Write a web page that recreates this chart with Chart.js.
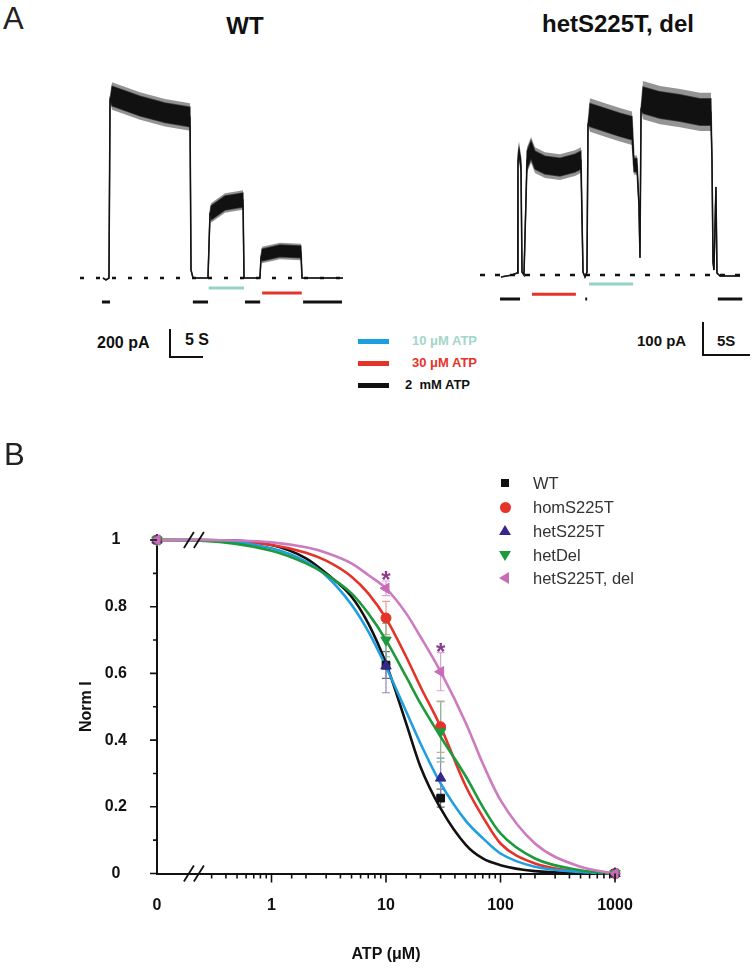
<!DOCTYPE html>
<html>
<head>
<meta charset="utf-8">
<title>ATP inhibition of WT and mutant channels</title>
<script src="https://cdn.jsdelivr.net/npm/chart.js@4.4.1/dist/chart.umd.min.js"></script>
<style>
  html, body { margin: 0; padding: 0; background: #fff; }
  #fig { position: relative; width: 755px; height: 972px; overflow: hidden;
         font-family: 'Liberation Sans', Arial, sans-serif; color: #111; }
  #fig > * { position: absolute; }
  .t { line-height: 1; white-space: pre; margin: 0; }
  .panel { font-size: 31px; color: #222; }
  .head { font-size: 24px; font-weight: bold; text-align: center; width: 240px; }
  .scl { font-size: 16px; font-weight: bold; }
  .key { font-size: 13px; font-weight: bold; }
  .keyline { height: 5px; width: 31px; left: 358px; }
  .ink { background: #111; }
  .grp { font-size: 16.5px; color: #333; left: 533px; }
  .sym { width: 0; height: 0; }
</style>
</head>
<body>
<div id="fig">
  <div class="t panel" style="left:3px; top:3px;">A</div>
  <div class="t head" style="left:125px; top:14px;">WT</div>
  <div class="t head" style="left:498px; top:12px;">hetS225T, del</div>

  <canvas id="wtTrace" width="290" height="260" style="left:70px; top:60px;"></canvas>
  <canvas id="hetTrace" width="285" height="260" style="left:470px; top:60px;"></canvas>

  <!-- scale bars -->
  <div class="t scl" style="left:97px; top:335px;">200 pA</div>
  <div class="ink" style="left:169px; top:329px; width:2px; height:29px;"></div>
  <div class="ink" style="left:169px; top:356px; width:34px; height:2px;"></div>
  <div class="t scl" style="left:185px; top:332px;">5 S</div>

  <div class="t scl" style="left:637px; top:333px; font-size:15px;">100 pA</div>
  <div class="ink" style="left:702px; top:322px; width:2px; height:34px;"></div>
  <div class="ink" style="left:702px; top:354px; width:48px; height:2px;"></div>
  <div class="t scl" style="left:717px; top:333px; font-size:15px;">5S</div>

  <!-- solution key -->
  <div class="keyline" style="top:339px; background:#1a9fe0;"></div>
  <div class="keyline" style="top:361px; background:#e5332a;"></div>
  <div class="keyline" style="top:383px; background:#111;"></div>
  <div class="t key" style="left:412px; top:334px; color:#a3d6c9;">10 μM ATP</div>
  <div class="t key" style="left:412px; top:356px; color:#e5332a;">30 μM ATP</div>
  <div class="t key" style="left:405px; top:378px;">2  mM ATP</div>

  <canvas id="doseChart" width="755" height="532" style="left:0; top:440px;"></canvas>
  <div class="t panel" style="left:4px; top:439px;">B</div>
</div>

<script>
// ---------- panel A : current traces (time in s, current in pA) ----------
const wtTime    = [3.48, 3.94, 4.39, 4.55, 4.85, 9.09, 12.88, 16.67, 16.82, 17.12, 19.39, 19.7,
                   19.85, 21.97, 24.7, 24.85, 27.27, 27.42, 27.58, 30.3, 33.48, 33.64, 39.85];
const wtCurrent = [0, -14, 0, 1271, 1300, 1228, 1180, 1150, 57, 0, 0, 464,
                   464, 536, 557, 0, 0, 143, 164, 193, 186, 0, 0];
const wtNoise   = [0, 0, 0, 0, 70, 70, 70, 70, 0, 0, 0, 0,
                   50, 50, 50, 0, 0, 0, 42, 42, 42, 0, 0];
const wtBaseline = [0, 41.2];
const wtBlackOn = [[3.33, 4.55], [17.1, 19.4], [25.0, 27.3], [33.8, 39.7]];
const wtTealOn  = [[19.5, 24.85]];
const wtRedOn   = [[27.6, 33.6]];

const hetTime    = [2.23, 3.4, 3.94, 4.04, 4.15, 4.36, 4.47, 4.68, 4.89, 5.0,
                    5.43, 5.85, 6.91, 8.51, 10.1, 10.74, 10.96, 11.17, 11.38, 11.49,
                    11.7, 13.3, 14.89, 16.17, 16.38, 16.7, 16.91, 17.02, 17.13, 17.34,
                    19.15, 21.28, 23.4, 24.57, 24.68, 24.79, 24.89, 25.1, 25.21, 25.53, 27.66];
const hetCurrent = [-6, 0, 6, 348, 373, 333, 9, 0, 227, 348,
                    379, 348, 333, 327, 339, 348, 9, -6, 9, 455,
                    485, 470, 455, 445, 333, 333, 212, 52, 500, 530,
                    515, 506, 494, 494, 348, 39, 15, 267, 6, -3, -3];
const hetNoise   = [0, 0, 0, 15, 15, 15, 0, 0, 0, 27,
                    27, 27, 27, 27, 27, 27, 0, 0, 0, 0,
                    35, 35, 35, 35, 20, 20, 0, 0, 0, 40,
                    40, 40, 40, 40, 0, 0, 0, 0, 0, 0, 0];
const hetBaseline = [0, 28.7];
const hetBlackOn = [[2.13, 4.26], [11.2, 11.4], [25.3, 27.9]];
const hetTealOn  = [[11.6, 16.3]];
const hetRedOn   = [[5.53, 10.2]];

// ---------- panel B : normalised current vs ATP ----------
const groupNames = ['WT', 'homS225T', 'hetS225T', 'hetDel', 'hetS225T, del'];
const atpConc = [0, 10, 30, 1000];
const wtMean  = [1, 0.625, 0.226, 0];
const wtErr   = [0, 0.04, 0.027, 0];
const homMean = [1, 0.766, 0.44, 0];
const homErr  = [0, 0.05, 0.077, 0];
const hetMean = [1, 0.622, 0.286, 0];
const hetErr  = [0, 0.08, 0.06, 0];
const delMean = [1, 0.70, 0.425, 0];
const delErr  = [0, 0.05, 0.09, 0];
const dblMean = [1, 0.855, 0.605, 0];
const dblErr  = [0, 0.022, 0.057, 0];
const starConc = [10, 30];

const fitConc = [0, 0.24, 1, 2, 3, 5, 7, 10, 15, 20, 30, 50, 70, 100, 200, 500, 1000];
const wtFit  = [1, 1, 0.985, 0.945, 0.9, 0.83, 0.75, 0.63, 0.45, 0.32, 0.195, 0.085, 0.045, 0.025, 0.007, 0.001, 0];
const homFit = [1, 1, 0.985, 0.962, 0.938, 0.89, 0.84, 0.765, 0.65, 0.56, 0.44, 0.26, 0.17, 0.09, 0.03, 0.006, 0];
const hetFit = [1, 1, 0.975, 0.935, 0.893, 0.806, 0.726, 0.62, 0.486, 0.39, 0.27, 0.157, 0.106, 0.06, 0.02, 0.005, 0];
const delFit = [1, 0.998, 0.968, 0.93, 0.897, 0.84, 0.78, 0.70, 0.59, 0.51, 0.41, 0.29, 0.2, 0.12, 0.045, 0.01, 0];
const dblFit = [1, 1, 0.993, 0.978, 0.962, 0.93, 0.895, 0.855, 0.78, 0.71, 0.605, 0.45, 0.33, 0.22, 0.09, 0.02, 0];

const xTickAt = [0.1, 1, 10, 100, 1000];
const xTickLabels = ['0', '1', '10', '100', '1000'];

const ZERO_AT = 0.1;    // "0" sits one decade left of 1 on the log axis
const BREAK_AT = 0.21;  // where the // marks go

Chart.defaults.font.family = "'Liberation Sans', Arial, sans-serif";
Chart.defaults.color = '#111';

// ---------- traces ----------
function drawTrace(id, view, trace) {
  const pts = (ys) => trace.time.map((t, i) => ({ x: t, y: ys[i] }));
  const band = (k) => pts(trace.current.map((c, i) => c + k * trace.noise[i]));
  const bars = (spans, level, color) => ({
    data: spans.flatMap(([a, b]) => [{ x: a, y: level }, { x: b, y: level }, { x: b, y: null }]),
    borderColor: color, borderWidth: 3, borderCapStyle: 'butt', spanGaps: false
  });

  new Chart(document.getElementById(id), {
    type: 'line',
    data: {
      datasets: [
        { data: band(1), fill: '+1', backgroundColor: '#111', borderColor: 'rgba(17,17,17,0.6)', borderWidth: 1.5 },
        { data: band(-1), fill: false, borderColor: 'rgba(17,17,17,0.6)', borderWidth: 1.5 },
        { data: pts(trace.current), borderColor: '#111', borderWidth: 1.2 },
        { data: trace.baseline.map((t) => ({ x: t, y: 0 })), borderColor: '#111', borderWidth: 2.5, borderDash: view.dash },
        bars(trace.black, view.barLevel.black, '#111'),
        bars(trace.teal, view.barLevel.teal, '#93d4c6'),
        bars(trace.red, view.barLevel.red, '#e5332a'),
        // soft halo for the noise peaks, drawn underneath
        { data: band(view.halo), fill: '+1', backgroundColor: 'rgba(17,17,17,0.45)', borderWidth: 0 },
        { data: band(-view.halo), fill: false, borderWidth: 0 },
      ]
    },
    options: {
      responsive: false,
      animation: false,
      devicePixelRatio: 1,
      layout: { padding: 0 },
      elements: { point: { radius: 0 }, line: { tension: 0 } },
      scales: {
        x: { type: 'linear', display: false,
             min: -view.originX / view.pxPerSec,
             max: (view.width - view.originX) / view.pxPerSec },
        y: { display: false,
             min: -(view.height - view.originY) * view.pAPerPx,
             max: view.originY * view.pAPerPx },
      },
      plugins: { legend: { display: false }, tooltip: { enabled: false } },
    },
  });
}

drawTrace('wtTrace',
  { pxPerSec: 33 / 5, pAPerPx: 200 / 28, originX: 10, originY: 218, width: 290, height: 260,
    dash: [4, 12], halo: 1.4, barLevel: { black: -171, teal: -71, red: -107 } },
  { time: wtTime, current: wtCurrent, noise: wtNoise, baseline: wtBaseline,
    black: wtBlackOn, teal: wtTealOn, red: wtRedOn });

drawTrace('hetTrace',
  { pxPerSec: 47 / 5, pAPerPx: 100 / 33, originX: 10, originY: 215, width: 285, height: 260,
    dash: [5, 10], halo: 1.45, barLevel: { black: -73, teal: -27, red: -58 } },
  { time: hetTime, current: hetCurrent, noise: hetNoise, baseline: hetBaseline,
    black: hetBlackOn, teal: hetTealOn, red: hetRedOn });

// ---------- dose response ----------
const groups = [
  { mean: wtMean,  err: wtErr,  fit: wtFit,  line: '#111111', mark: '#111111', bar: '#6b6b6b', style: 'rect',     rot: 0,   r: 5.5 },
  { mean: homMean, err: homErr, fit: homFit, line: '#e5332a', mark: '#e5332a', bar: '#f09a92', style: 'circle',   rot: 0,   r: 5 },
  { mean: hetMean, err: hetErr, fit: hetFit, line: '#1f9fe0', mark: '#35288c', bar: '#8f88c4', style: 'triangle', rot: 0,   r: 6 },
  { mean: delMean, err: delErr, fit: delFit, line: '#1e9a3e', mark: '#1e9a3e', bar: '#7fbf95', style: 'triangle', rot: 180, r: 6 },
  { mean: dblMean, err: dblErr, fit: dblFit, line: '#cc7bc0', mark: '#c86cb8', bar: '#dca4d4', style: 'triangle', rot: 270, r: 6 },
];
const onAxis = (c) => (c === 0 ? ZERO_AT : c);
const isDecade = (v) => Math.abs(Math.log10(v) - Math.round(Math.log10(v))) < 1e-6;

const markSets = groups.map((g, i) => ({
  data: atpConc.map((c, j) => ({ x: onAxis(c), y: g.mean[j] })),
  showLine: false,
  pointStyle: g.style, pointRotation: g.rot, pointRadius: g.r,
  pointBackgroundColor: g.mark, pointBorderColor: g.mark, pointBorderWidth: 1,
  clip: false, order: 4 - i,
  err: g.err, errColor: g.bar, star: i === 4,
}));
const fitSets = groups.map((g, i) => ({
  data: fitConc.map((c, j) => ({ x: onAxis(c), y: g.fit[j] })),
  borderColor: g.line, borderWidth: 2.6, pointRadius: 0,
  cubicInterpolationMode: 'monotone', clip: false, order: 14 - i,
}));

const errorBars = {
  id: 'errorBars',
  beforeDatasetsDraw(chart) {
    const { ctx, scales: { y } } = chart;
    ctx.save();
    ctx.lineWidth = 1.2;
    chart.data.datasets.forEach((ds, i) => {
      if (!ds.err) return;
      ctx.strokeStyle = ds.errColor;
      chart.getDatasetMeta(i).data.forEach((pt, j) => {
        const e = ds.err[j];
        if (!e) return;
        const v = ds.data[j].y;
        const top = y.getPixelForValue(v + e), bot = y.getPixelForValue(v - e);
        ctx.beginPath();
        ctx.moveTo(pt.x, top); ctx.lineTo(pt.x, bot);
        ctx.moveTo(pt.x - 4, top); ctx.lineTo(pt.x + 4, top);
        ctx.moveTo(pt.x - 4, bot); ctx.lineTo(pt.x + 4, bot);
        ctx.stroke();
      });
    });
    ctx.restore();
  },
};

const stars = {
  id: 'stars',
  afterDatasetsDraw(chart) {
    const { ctx, scales: { x, y } } = chart;
    const ds = chart.data.datasets.find((d) => d.star);
    ctx.save();
    ctx.fillStyle = '#8c3a8a';
    ctx.font = 'bold 24px "Liberation Sans", Arial, sans-serif';
    ctx.textAlign = 'center';
    ctx.textBaseline = 'alphabetic';
    starConc.forEach((c) => {
      const j = atpConc.indexOf(c);
      const top = y.getPixelForValue(ds.data[j].y + ds.err[j]);
      ctx.fillText('*', x.getPixelForValue(c), top + 7);
    });
    ctx.restore();
  },
};

const axisTicks = {
  id: 'axisTicks',
  afterDraw(chart) {
    const { ctx, chartArea: area, scales: { x, y } } = chart;
    ctx.save();
    ctx.strokeStyle = '#111';
    ctx.lineWidth = 1.6;
    ctx.beginPath();
    x.ticks.forEach((t) => {
      if (t.value < 0.25) return;       // "0" and the broken stretch
      const px = x.getPixelForValue(t.value);
      ctx.moveTo(px, area.bottom);
      ctx.lineTo(px, area.bottom + (isDecade(t.value) ? 9 : 5));
    });
    y.ticks.forEach((t) => {
      const py = y.getPixelForValue(t.value);
      const major = Math.round(t.value * 10) % 2 === 0;
      ctx.moveTo(area.left, py);
      ctx.lineTo(area.left - (major ? 7 : 4), py);
    });
    ctx.stroke();
    // axis break marks on the x axis and on the y = 1 line
    const cx = x.getPixelForValue(BREAK_AT);
    ctx.lineWidth = 1.8;
    ctx.beginPath();
    [y.getPixelForValue(0), y.getPixelForValue(1)].forEach((cy) => {
      [-5, 5].forEach((dx) => {
        ctx.moveTo(cx + dx - 5, cy + 8);
        ctx.lineTo(cx + dx + 5, cy - 8);
      });
    });
    ctx.stroke();
    ctx.restore();
  },
};

new Chart(document.getElementById('doseChart'), {
  type: 'line',
  data: { datasets: [...markSets, ...fitSets] },
  options: {
    responsive: false,
    animation: false,
    devicePixelRatio: 1,
    layout: { padding: { top: 100, right: 140, left: 0, bottom: 0 } },
    scales: {
      x: {
        type: 'logarithmic', min: 0.1, max: 1000,
        afterFit: (s) => { s.height = 98.5; },
        grid: { display: false, drawTicks: false },
        border: { display: true, color: '#111', width: 2 },
        ticks: {
          autoSkip: false, maxRotation: 0, padding: 22,
          font: { size: 16, weight: 'bold' },
          callback: (v) => {
            const k = xTickAt.findIndex((a) => Math.abs(Math.log10(a) - Math.log10(v)) < 1e-6);
            return k >= 0 ? xTickLabels[k] : '';
          },
        },
        title: { display: true, text: 'ATP (μM)', font: { size: 16, weight: 'bold' },
                 padding: { top: 0, bottom: 7.4 } },
      },
      y: {
        min: 0, max: 1,
        afterFit: (s) => { s.width = 157; },
        grid: { display: false, drawTicks: false },
        border: { display: true, color: '#111', width: 2 },
        ticks: {
          stepSize: 0.1, crossAlign: 'center', padding: 30,
          font: { size: 16, weight: 'bold' },
          callback: (v) => {
            const k = Math.round(v * 10);
            return k % 2 === 0 ? String(k / 10) : '';
          },
        },
        title: { display: true, text: 'Norm I', font: { size: 16, weight: 'bold' },
                 padding: { top: 77.4, bottom: 0 } },
      },
    },
    plugins: { legend: { display: false }, tooltip: { enabled: false } },
  },
  plugins: [errorBars, stars, axisTicks],
});

// ---------- legend for panel B ----------
const legendRows = [483, 507, 531, 555, 578];
const legendShapes = [
  'width:8px;height:8px;background:#111;margin:-4px 0 0 -4px;',
  'width:11px;height:11px;border-radius:50%;background:#e5332a;margin:-5.5px 0 0 -5.5px;',
  'border-left:6px solid transparent;border-right:6px solid transparent;border-bottom:10px solid #35288c;margin:-6px 0 0 -6px;',
  'border-left:6px solid transparent;border-right:6px solid transparent;border-top:10px solid #1e9a3e;margin:-4px 0 0 -6px;',
  'border-top:6px solid transparent;border-bottom:6px solid transparent;border-right:10px solid #c86cb8;margin:-6px 0 0 -6px;',
];
const fig = document.getElementById('fig');
groupNames.forEach((name, i) => {
  const sym = document.createElement('div');
  sym.className = 'sym';
  sym.style.cssText = 'position:absolute;left:505px;top:' + legendRows[i] + 'px;' + legendShapes[i];
  fig.appendChild(sym);
  const txt = document.createElement('div');
  txt.className = 't grp';
  txt.style.position = 'absolute';
  txt.style.top = (legendRows[i] - 8) + 'px';
  txt.textContent = name;
  fig.appendChild(txt);
});
</script>
</body>
</html>
